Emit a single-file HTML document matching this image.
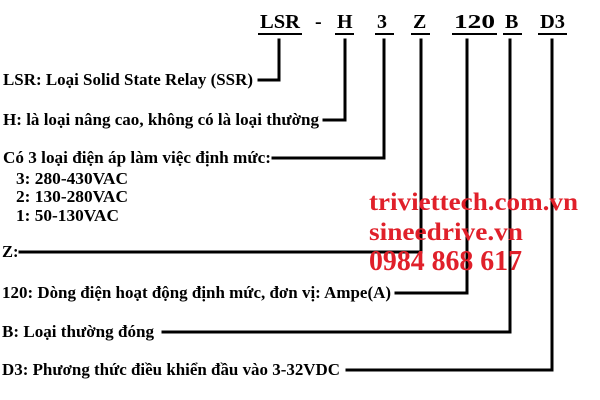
<!DOCTYPE html>
<html><head><meta charset="utf-8"><style>
html,body{margin:0;padding:0;background:#fff;}
svg{display:block}
text{font-family:"Liberation Serif",serif;font-weight:bold;}
</style></head><body>
<svg width="600" height="400" viewBox="0 0 600 400" xmlns="http://www.w3.org/2000/svg">
<g font-size="20" fill="#000">
<text x="260" y="28" textLength="40" lengthAdjust="spacingAndGlyphs">LSR</text>
<text x="315" y="28">-</text>
<text x="337" y="28">H</text>
<text x="377" y="28">3</text>
<text x="413" y="28">Z</text>
<text x="454" y="28" textLength="41" lengthAdjust="spacingAndGlyphs">120</text>
<text x="505" y="28">B</text>
<text x="540" y="28" textLength="25" lengthAdjust="spacingAndGlyphs">D3</text>
</g>
<g fill="#000">
<rect x="258" y="33" width="44" height="2"/>
<rect x="335" y="33" width="19" height="2"/>
<rect x="375" y="33" width="19" height="2"/>
<rect x="411" y="33" width="19" height="2"/>
<rect x="452" y="33" width="45" height="2"/>
<rect x="503" y="33" width="19" height="2"/>
<rect x="538" y="33" width="29" height="2"/>
</g>
<g stroke="#000" stroke-width="3" fill="none" stroke-linecap="square">
<polyline points="279,40 279,80 259,80"/>
<polyline points="345,40 345,120 324,120"/>
<polyline points="384,40 384,158 273,158"/>
<polyline points="421,40 421,252 20,252"/>
<polyline points="467,40 467,293 396,293"/>
<polyline points="510,40 510,332 163,332"/>
<polyline points="552,40 552,370 347,370"/>
</g>
<g font-size="16.5" fill="#000">
<text x="3" y="85" textLength="250" lengthAdjust="spacingAndGlyphs">LSR: Loại Solid State Relay (SSR)</text>
<text x="3" y="125" textLength="316" lengthAdjust="spacingAndGlyphs">H: là loại nâng cao, không có là loại thường</text>
<text x="3" y="163" textLength="268" lengthAdjust="spacingAndGlyphs">Có 3 loại điện áp làm việc định mức:</text>
<text x="16" y="184" textLength="112" lengthAdjust="spacingAndGlyphs">3: 280-430VAC</text>
<text x="16" y="202" textLength="112" lengthAdjust="spacingAndGlyphs">2: 130-280VAC</text>
<text x="16" y="221" textLength="103" lengthAdjust="spacingAndGlyphs">1: 50-130VAC</text>
<text x="2" y="257">Z:</text>
<text x="2" y="298" textLength="389" lengthAdjust="spacingAndGlyphs">120: Dòng điện hoạt động định mức, đơn vị: Ampe(A)</text>
<text x="2" y="337" textLength="152" lengthAdjust="spacingAndGlyphs">B: Loại thường đóng</text>
<text x="2" y="375" textLength="338" lengthAdjust="spacingAndGlyphs">D3: Phương thức điều khiển đầu vào 3-32VDC</text>
</g>
<g fill="#e0202a">
<text x="369" y="210" font-size="25" textLength="209" lengthAdjust="spacingAndGlyphs">triviettech.com.vn</text>
<text x="369" y="240" font-size="25" textLength="154" lengthAdjust="spacingAndGlyphs">sineedrive.vn</text>
<text x="369" y="270" font-size="28" textLength="153" lengthAdjust="spacingAndGlyphs">0984 868 617</text>
</g>
</svg>
</body></html>
